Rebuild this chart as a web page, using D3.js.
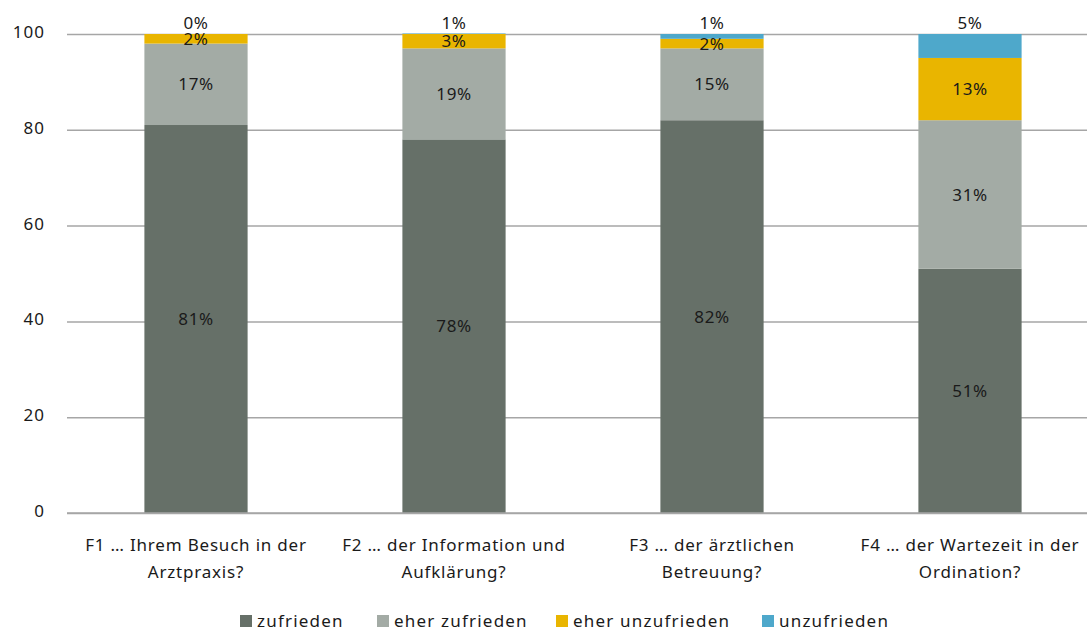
<!DOCTYPE html>
<html>
<head>
<meta charset="utf-8">
<script src="https://cdn.jsdelivr.net/npm/d3@7"></script>
<style>
  html, body { margin: 0; padding: 0; background: #fff; }
  svg { display: block; font-family: "Noto Sans", "Open Sans", sans-serif; }
</style>
</head>
<body>
<svg id="chart" width="1087" height="631"></svg>
<script>
const categories = [
  "F1 … Ihrem Besuch in der Arztpraxis?",
  "F2 … der Information und Aufklärung?",
  "F3 … der ärztlichen Betreuung?",
  "F4 … der Wartezeit in der Ordination?"
];
const seriesNames = ["zufrieden", "eher zufrieden", "eher unzufrieden", "unzufrieden"];
const zufrieden = [81, 78, 82, 51];
const eherZufrieden = [17, 19, 15, 31];
const eherUnzufrieden = [2, 3, 2, 13];
const unzufrieden = [0, 1, 1, 5];
const colors = ["#667068", "#a3aba5", "#e9b500", "#4ea8cb"];
const yTicks = [0, 20, 40, 60, 80, 100];

const seriesValues = [zufrieden, eherZufrieden, eherUnzufrieden, unzufrieden];
const rows = categories.map((c, i) => {
  const r = { cat: c };
  seriesNames.forEach((s, j) => r[s] = seriesValues[j][i]);
  return r;
});
const stacked = d3.stack().keys(seriesNames)(rows);

const svg = d3.select("#chart");
const pL = 67, pR = 1099, pT = 34, pB = 513;

const x = d3.scaleBand().domain(categories).range([pL, pR]).paddingInner(0.6).paddingOuter(0.3);
const y = d3.scaleLinear().domain([0, 100]).range([pB, pT]);
const color = d3.scaleOrdinal().domain(seriesNames).range(colors);

svg.append("defs").append("clipPath").attr("id", "plotclip")
  .append("rect").attr("x", pL).attr("y", pT - 0.5).attr("width", pR - pL).attr("height", pB - pT + 1);

// gridlines + y labels
const yAxis = svg.append("g").attr("transform", `translate(${pL},0)`)
  .call(d3.axisLeft(y).tickValues(yTicks).tickSize(-(pR - pL)).tickPadding(22).tickFormat(d3.format("d")));
yAxis.select(".domain").remove();
yAxis.selectAll(".tick line").attr("stroke", "#a6a6a6").attr("stroke-width", 1.5);
yAxis.selectAll(".tick text").attr("font-size", 17).attr("letter-spacing", 1)
  .attr("dy", "0.2em").attr("fill", "#1a1a1a").attr("font-family", "Noto Sans, sans-serif");

// bars
const gBars = svg.append("g").attr("clip-path", "url(#plotclip)");
gBars.selectAll("g.series").data(stacked).join("g")
  .attr("class", "series")
  .attr("fill", d => color(d.key))
  .selectAll("rect").data(d => d).join("rect")
  .attr("x", d => x(d.data.cat))
  .attr("width", x.bandwidth())
  .attr("y", d => y(d[1]))
  .attr("height", d => Math.max(0, y(d[0]) - y(d[1])));

svg.append("line").attr("x1", pL).attr("x2", pR).attr("y1", y(0)).attr("y2", y(0))
  .attr("stroke", "#a6a6a6").attr("stroke-width", 1.5);

// value labels
const gLab = svg.append("g").attr("font-size", 17).attr("letter-spacing", 0.6)
  .attr("fill", "#1a1a1a").attr("text-anchor", "middle");
stacked.forEach((s, si) => {
  s.forEach(d => {
    const cx = x(d.data.cat) + x.bandwidth() / 2;
    const v = d[1] - d[0];
    if (si === seriesNames.length - 1) {
      const yy = Math.max(y(d[1]), y(100)) - 5;
      gLab.append("text").attr("x", cx).attr("y", yy).text(v + "%");
    } else {
      const yy = (y(d[0]) + y(Math.min(d[1], 100))) / 2;
      gLab.append("text").attr("x", cx).attr("y", yy).attr("dy", "0.36em").text(v + "%");
    }
  });
});

// x labels with wrapping
const gx = svg.append("g").attr("font-size", 17).attr("letter-spacing", 0.8)
  .attr("fill", "#1a1a1a").attr("text-anchor", "middle");
categories.forEach(c => {
  const cx = x(c) + x.bandwidth() / 2;
  const t = gx.append("text").attr("x", cx).attr("y", 551);
  const words = c.split(" ");
  let line = [], lineNo = 0;
  let ts = t.append("tspan").attr("x", cx).attr("y", 551);
  words.forEach(w => {
    line.push(w);
    ts.text(line.join(" "));
    if (ts.node().getComputedTextLength() > 252 && line.length > 1) {
      line.pop();
      ts.text(line.join(" "));
      line = [w];
      lineNo++;
      ts = t.append("tspan").attr("x", cx).attr("y", 551 + lineNo * 27).text(w);
    }
  });
});

// legend
const legendX = [240, 377, 556, 762];
const lg = svg.append("g");
seriesNames.forEach((s, i) => {
  lg.append("rect").attr("x", legendX[i]).attr("y", 615).attr("width", 12).attr("height", 12).attr("fill", colors[i]);
  lg.append("text").attr("x", legendX[i] + 17).attr("y", 626.5)
    .attr("font-size", 17).attr("letter-spacing", 1.2).attr("fill", "#1a1a1a").text(s);
});
</script>
</body>
</html>
